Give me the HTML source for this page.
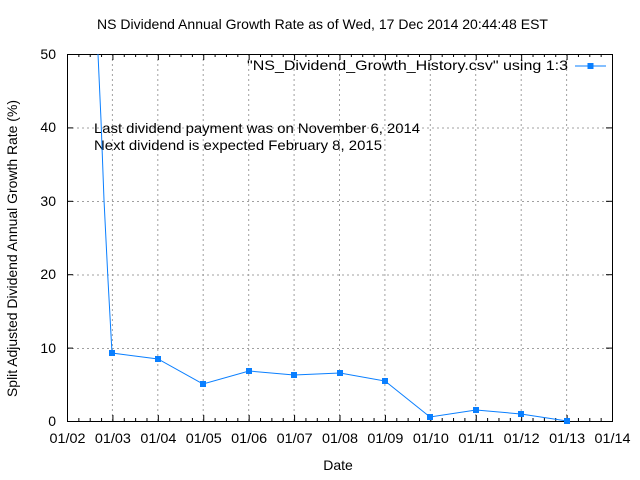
<!DOCTYPE html>
<html><head><style>body{margin:0;background:#fff}svg{display:block}text{font-family:"Liberation Sans",sans-serif;font-size:14px;fill:#000}</style></head>
<body>
<svg width="640" height="480" viewBox="0 0 640 480">
<g stroke="#a0a0a0" stroke-dasharray="2,3" stroke-width="1">
<line x1="67" y1="348.5" x2="612" y2="348.5"/><line x1="67" y1="275" x2="612" y2="275"/><line x1="67" y1="201.5" x2="612" y2="201.5"/><line x1="67" y1="128" x2="612" y2="128"/>
<line x1="112.4" y1="54" x2="112.4" y2="421"/><line x1="157.8" y1="54" x2="157.8" y2="421"/><line x1="203.2" y1="54" x2="203.2" y2="421"/><line x1="248.7" y1="54" x2="248.7" y2="421"/><line x1="294.1" y1="54" x2="294.1" y2="421"/><line x1="339.5" y1="54" x2="339.5" y2="421"/><line x1="384.9" y1="54" x2="384.9" y2="421"/><line x1="430.3" y1="54" x2="430.3" y2="421"/><line x1="475.7" y1="54" x2="475.7" y2="421"/><line x1="521.2" y1="54" x2="521.2" y2="421"/><line x1="566.6" y1="54" x2="566.6" y2="421"/>
</g>
<rect x="67.5" y="54.5" width="545" height="367" fill="none" stroke="#000"/>
<g stroke="#000" id="t"></g>
<text x="94" y="133" textLength="326" lengthAdjust="spacingAndGlyphs">Last dividend payment was on November 6, 2014</text>
<text x="94" y="150" textLength="288" lengthAdjust="spacingAndGlyphs">Next dividend is expected February 8, 2015</text>
<text x="247" y="70" textLength="321" lengthAdjust="spacingAndGlyphs">"NS_Dividend_Growth_History.csv" using 1:3</text>
<line x1="575" y1="66" x2="606" y2="66" stroke="#0a7fff"/><rect x="587.5" y="63" width="6" height="6" fill="#0a7fff"/>
<polyline fill="none" stroke="#0a7fff" points="98,54 101,120 104,200 108,280 112,353 158,359 203,384 249,371 294,375 340,373 385,381 430,417 476,410 521,414 567,421"/>
<g fill="#0a7fff">
<rect x="109" y="350" width="6" height="6"/><rect x="155" y="356" width="6" height="6"/><rect x="200" y="381" width="6" height="6"/><rect x="246" y="368" width="6" height="6"/><rect x="291" y="372" width="6" height="6"/><rect x="337" y="370" width="6" height="6"/><rect x="382" y="378" width="6" height="6"/><rect x="427" y="414" width="6" height="6"/><rect x="473" y="407" width="6" height="6"/><rect x="518" y="411" width="6" height="6"/><rect x="564" y="418" width="6" height="6"/>
</g>
<g text-anchor="end"><text x="56" y="426">0</text><text x="56" y="353">10</text><text x="56" y="279">20</text><text x="56" y="206">30</text><text x="56" y="132">40</text><text x="56" y="59">50</text></g>
<g id="xl"></g>
<text x="338" y="470" text-anchor="middle">Date</text>
<text x="97" y="29" textLength="451" lengthAdjust="spacingAndGlyphs">NS Dividend Annual Growth Rate as of Wed, 17 Dec 2014 20:44:48 EST</text>
<text transform="translate(17,397) rotate(-90)" textLength="297" lengthAdjust="spacingAndGlyphs">Split Adjusted Dividend Annual Growth Rate (%)</text>
</svg>
<script>
var g=document.getElementById('t'),s='';
for(var i=0;i<=48;i++){var x=67.5+i*545/48,h=(i%4==0)?6:3;s+='<line x1="'+x+'" y1="421" x2="'+x+'" y2="'+(421-h)+'"/><line x1="'+x+'" y1="54" x2="'+x+'" y2="'+(54+h)+'"/>';}
for(var j=0;j<=5;j++){var y=421.5-j*73.4;s+='<line x1="67" y1="'+y+'" x2="73" y2="'+y+'"/><line x1="612" y1="'+y+'" x2="606" y2="'+y+'"/>';}
g.innerHTML=s;
var t='';for(var k=0;k<=12;k++){var x=67.5+k*545/12;var m=k+2;t+='<text x="'+(x-18)+'" y="443" textLength="36" lengthAdjust="spacingAndGlyphs">01/'+(m<10?'0'+m:m)+'</text>';}
document.getElementById('xl').innerHTML=t;
</script>
</body></html>
